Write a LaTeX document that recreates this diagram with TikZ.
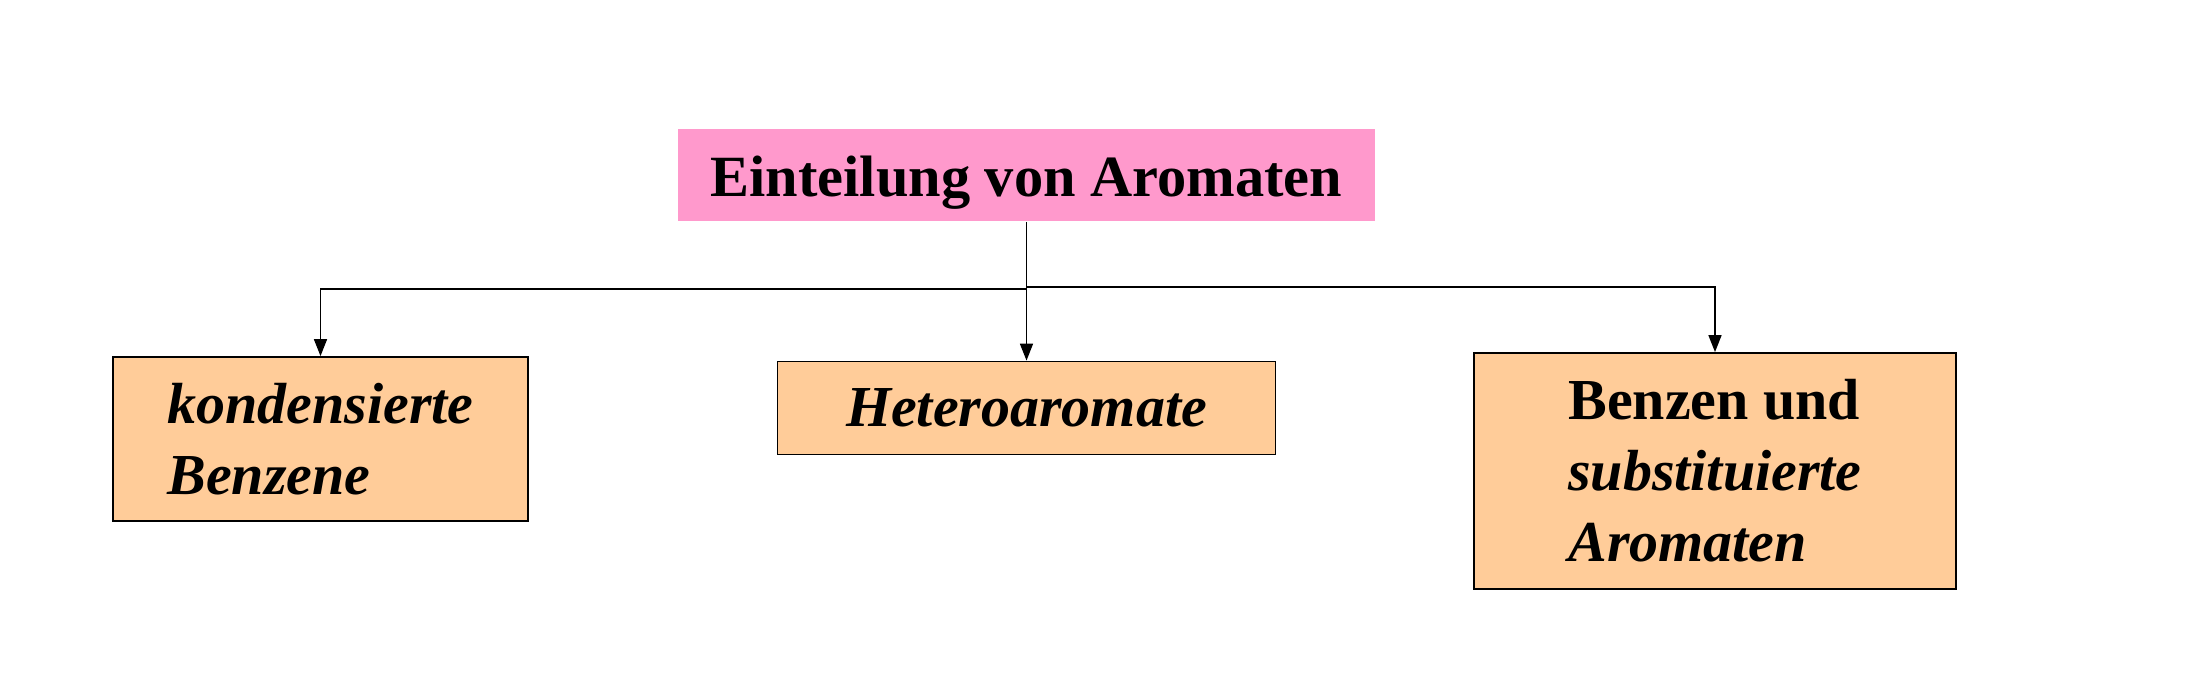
\documentclass[tikz,border=0pt]{standalone}
\usepackage{fontspec}
\setmainfont{Liberation Serif}
\usepackage{tikz}
\usetikzlibrary{arrows.meta, positioning}
\definecolor{kopfrosa}{HTML}{FF99CC}
\definecolor{pfirsich}{HTML}{FFCC99}
\tikzset{
     %default line width for the whole picture
    every picture/.style={line width=0.8pt},
    kopf-box/.style={
        fill=kopfrosa,
        minimum width=348.5pt,
        minimum height=46pt,
        inner sep=0pt,
        text height=22pt,
        text depth=0pt,
        font=\fontsize{29.2}{35}\selectfont\bfseries,
    },
    gruppe-box/.style={
        draw,
        fill=pfirsich,
        line width=0.9pt,
        inner sep=0pt,
        align=left,
        font=\fontsize{29}{35.5}\selectfont\bfseries,
    },
    pfeil/.style={
        -{Triangle[length=8.5pt,width=6.5pt]},
    }
}
\begin{document}
\begin{tikzpicture}[x=0.5pt,y=-0.5pt]
        \useasboundingbox (0,0) rectangle (2206,674); %page size of the diagram

% Title Node
\node (kopf) [kopf-box] at (1026.5,175) {Einteilung von Aromaten};
% Group Nodes
\node (kond) [gruppe-box, minimum width=207.5pt, minimum height=82pt] at (320.5,439) {\itshape kondensierte\\\itshape Benzene};
\node (hetero) [gruppe-box, minimum width=249pt, minimum height=46.5pt] at (1026.5,408) {\itshape Heteroaromate};
\node (subst) [gruppe-box, minimum width=241pt, minimum height=118pt] at (1715,471) {Benzen und\\\textit{substituierte}\\\textit{Aromaten}};

% Branch points
\coordinate (astL) at (1026.5,289);
\coordinate (astR) at (1026.5,287);

% Connectors
\draw [pfeil] (kopf.south) -- (hetero.north);
\draw [pfeil] (astL) -| (kond.north);
\draw [pfeil] (astR) -| (subst.north);
    \end{tikzpicture}
\end{document}
